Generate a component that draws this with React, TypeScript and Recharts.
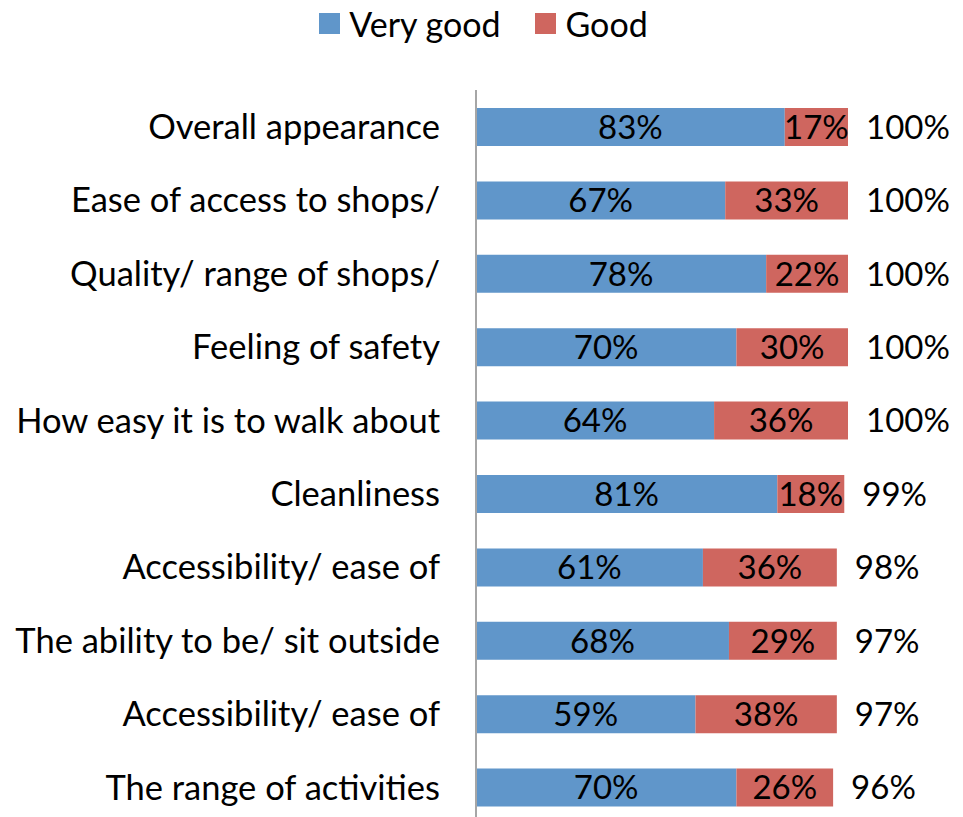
import { BarChart, Bar, XAxis, YAxis, Legend, LabelList } from "recharts";

const categories = [
  "Overall appearance",
  "Ease of access to shops/",
  "Quality/ range of shops/",
  "Feeling of safety",
  "How easy it is to walk about",
  "Cleanliness",
  "Accessibility/ ease of",
  "The ability to be/ sit outside",
  "Accessibility/ ease of",
  "The range of activities",
];
const veryGood = [83, 67, 78, 70, 64, 81, 61, 68, 59, 70];
const good = [17, 33, 22, 30, 36, 18, 36, 29, 38, 26];
const totals = [100, 100, 100, 100, 100, 99, 98, 97, 97, 96];

const FONT = "Lato, 'Open Sans', sans-serif";
const BLUE = "#6096CA";
const RED = "#CF665F";

const data = categories.map((name, i) => ({
  name,
  veryGood: veryGood[i],
  good: good[i],
  total: totals[i],
}));

const pct = (v: any) => `${v}%`;

function LegendBox() {
  const items = [
    { label: "Very good", color: BLUE },
    { label: "Good", color: RED },
  ];
  return (
    <div
      style={{
        display: "flex",
        justifyContent: "center",
        alignItems: "center",
        height: 46,
        width: 963,
        paddingLeft: 4,
        boxSizing: "border-box",
        fontFamily: FONT,
        fontSize: 34,
        color: "#000",
      }}
    >
      {items.map((it, i) => (
        <div
          key={it.label}
          style={{ display: "flex", alignItems: "center", marginRight: i === 0 ? 35 : 0 }}
        >
          <span
            style={{ width: 21, height: 21, background: it.color, marginRight: 9, display: "inline-block" }}
          />
          <span>{it.label}</span>
        </div>
      ))}
    </div>
  );
}

export default function App() {
  return (
    <div style={{ position: "absolute", left: 0, top: 0, width: 963, height: 817, overflow: "hidden", background: "#fff" }}>
      <BarChart
        width={963}
        height={824}
        data={data}
        layout="vertical"
        margin={{ top: 44, right: 115, left: 0, bottom: 0 }}
        barSize={38}
      >
        <Legend
          verticalAlign="top"
          align="center"
          content={() => <LegendBox />}
          wrapperStyle={{ top: 0, left: 0, width: 963 }}
        />
        <XAxis type="number" domain={[0, 100]} hide />
        <YAxis
          type="category"
          dataKey="name"
          width={476}
          tickLine={false}
          tickSize={0}
          tickMargin={36}
          axisLine={{ stroke: "#A6A6A6", strokeWidth: 2 }}
          tick={{ fill: "#000", fontSize: 34.5, fontFamily: FONT }}
          interval={0}
        />
        <Bar dataKey="veryGood" stackId="a" fill={BLUE} isAnimationActive={false}>
          <LabelList dataKey="veryGood" position="center" formatter={pct} fill="#000" fontSize={33} fontFamily={FONT} />
        </Bar>
        <Bar dataKey="good" stackId="a" fill={RED} isAnimationActive={false}>
          <LabelList dataKey="good" position="center" formatter={pct} fill="#000" fontSize={33} fontFamily={FONT} />
          <LabelList dataKey="total" position="right" offset={18} formatter={pct} fill="#000" fontSize={33} fontFamily={FONT} />
        </Bar>
      </BarChart>
    </div>
  );
}
